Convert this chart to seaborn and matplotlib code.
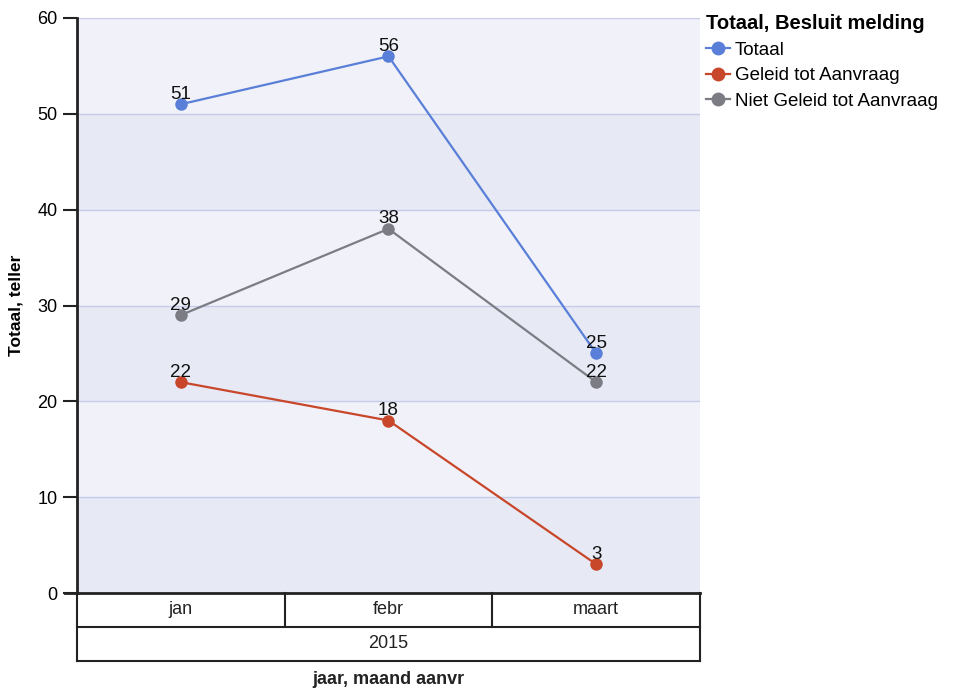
import matplotlib
matplotlib.use("Agg")
import matplotlib.pyplot as plt
import seaborn as sns
import pandas as pd

months = ["jan", "febr", "maart"]
year_label = "2015"
series_names = ["Totaal", "Geleid tot Aanvraag", "Niet Geleid tot Aanvraag"]
totaal = [51, 56, 25]
geleid = [22, 18, 3]
niet_geleid = [29, 38, 22]
colors = ["#5a7fd8", "#c8472a", "#7c7c84"]
yticks = [0, 10, 20, 30, 40, 50, 60]

rows = []
for name, vals in zip(series_names, [totaal, geleid, niet_geleid]):
    for i, (m, v) in enumerate(zip(months, vals)):
        rows.append({"maand": m, "pos": i, "serie": name, "waarde": v})
df = pd.DataFrame(rows)

plt.rcParams["font.family"] = ["Liberation Sans", "DejaVu Sans"]

fig = plt.figure(figsize=(9.78, 6.88), dpi=100)
fig.patch.set_facecolor("white")
L, R = 77 / 978, 700 / 978
T, B = 1 - 18 / 688, 1 - 593 / 688
ax = fig.add_axes([L, B, R - L, T - B])

# background bands
for lo in range(0, 60, 10):
    c = "#e7e9f5" if (lo // 10) % 2 == 0 else "#f1f2f9"
    ax.axhspan(lo, lo + 10, color=c, zorder=0, lw=0)
for y in yticks[1:]:
    ax.axhline(y, color="#c5cbe8", lw=1, zorder=1)

sns.lineplot(data=df, x="pos", y="waarde", hue="serie", hue_order=series_names,
             palette=colors, marker="o", markersize=9, markeredgewidth=0,
             linewidth=1.6, ax=ax, legend=True, zorder=3)

for name, vals in zip(series_names, [totaal, geleid, niet_geleid]):
    for i, v in enumerate(vals):
        ax.annotate(str(v), (i, v), xytext=(0, 1), textcoords="offset points",
                    ha="center", va="bottom", fontsize=13.5, color="#111111", zorder=5)

ax.set_xlim(-0.5, 2.5)
ax.set_ylim(0, 60)
ax.set_yticks(yticks)
ax.set_yticklabels([str(t) for t in yticks], fontsize=13)
ax.tick_params(axis="y", length=10, width=1.5, color="#222222", pad=4)
ax.set_xticks([])
ax.set_xlabel("")
ax.set_ylabel("Totaal, teller", fontsize=12.5, fontweight="bold", labelpad=10)
for s in ["top", "right"]:
    ax.spines[s].set_visible(False)
ax.spines["left"].set_linewidth(2)
ax.spines["left"].set_color("#222222")
ax.spines["bottom"].set_visible(False)

# legend
h, l = ax.get_legend_handles_labels()
for hd in h:
    hd.set_markersize(10)
leg = fig.legend(h, l, loc="upper left", bbox_to_anchor=(706 / 978, 1 - 14 / 688),
                 frameon=False, title="Totaal, Besluit melding", fontsize=13.5,
                 title_fontproperties={"weight": "bold", "size": 14.5},
                 handlelength=1.3, handletextpad=0.25, labelspacing=0.45,
                 borderaxespad=0, borderpad=0)
leg._legend_box.align = "left"
if ax.get_legend() is not None:
    ax.get_legend().remove()

# category table below
tb_top = 1 - 593 / 688
tb_bot = 1 - 661 / 688
tax = fig.add_axes([L, tb_bot, R - L, tb_top - tb_bot])
tax.set_xlim(-0.5, 2.5)
tax.set_ylim(0, 2)
tax.axis("off")
lc = "#222222"
tax.plot([-0.5, 2.5], [2, 2], color=lc, lw=2, clip_on=False)
tax.plot([-0.5, 2.5], [1, 1], color=lc, lw=1.5, clip_on=False)
tax.plot([-0.5, 2.5], [0, 0], color=lc, lw=1.5, clip_on=False)
tax.plot([-0.5, -0.5], [0, 2], color=lc, lw=1.5, clip_on=False)
tax.plot([2.5, 2.5], [0, 2], color=lc, lw=1.5, clip_on=False)
for xb in [0.5, 1.5]:
    tax.plot([xb, xb], [1, 2], color=lc, lw=1.5, clip_on=False)
for i, m in enumerate(months):
    tax.text(i, 1.5, m, ha="center", va="center", fontsize=13, color="#222222")
tax.text(1, 0.5, year_label, ha="center", va="center", fontsize=13, color="#222222")
# zero-tick extension to the left
fig.add_artist(plt.Line2D([65 / 978, L], [tb_top, tb_top], color=lc, lw=2))

fig.text((L + R) / 2, 1 - 679 / 688, "jaar, maand aanvr", ha="center", va="center",
         fontsize=13, fontweight="bold", color="#222222")

fig.savefig("out.png", dpi=100, facecolor="white")
